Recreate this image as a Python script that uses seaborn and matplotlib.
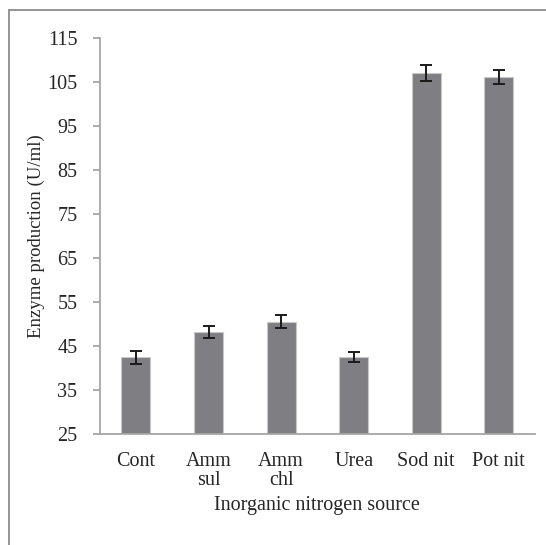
import matplotlib
matplotlib.use('Agg')
import matplotlib.pyplot as plt
import seaborn as sns
import pandas as pd
from matplotlib.lines import Line2D

# Valors llegits del gràfic
fonts = ['Cont', 'Amm\nsul', 'Amm\nchl', 'Urea', 'Sod nit', 'Pot nit']
produccio = [42.4, 48.2, 50.5, 42.5, 107.0, 106.2]
errors = [1.5, 1.3, 1.5, 1.2, 1.8, 1.6]
yticks = [25, 35, 45, 55, 65, 75, 85, 95, 105, 115]

df = pd.DataFrame({'font': fonts, 'valor': produccio})

sns.set_style('white')
plt.rcParams['font.family'] = ['Liberation Serif', 'DejaVu Serif']

fig = plt.figure(figsize=(5.46, 5.45), dpi=100)
ax = fig.add_axes([0.1826, 0.2037, 0.7974, 0.7263])

gris = '#a6a6a6'
sns.barplot(data=df, x='font', y='valor', color='#7f7f83', saturation=1,
            width=0.4, edgecolor='#c8c8c8', linewidth=0.8, errorbar=None, ax=ax)
ax.errorbar(range(len(fonts)), produccio, yerr=errors, fmt='none',
            ecolor='#1a1a1a', elinewidth=1.4, capsize=4, capthick=1.4)

ax.set_ylim(25, 115)
ax.set_yticks(yticks)
ax.set_xlim(-0.5, len(fonts) - 0.5)

# Etiquetes al centre, marques de divisió entre categories
ax.set_xticks(range(len(fonts)))
ax.set_xticklabels(fonts, linespacing=1.0)
ax.set_xticks([i - 0.5 for i in range(len(fonts) + 1)], minor=True)
ax.tick_params(axis='x', which='major', length=0, pad=13, labelsize=14.5)
ax.tick_params(axis='x', which='minor', length=5, width=1.3, color=gris, direction='out')
ax.tick_params(axis='y', length=5, width=1.3, color=gris, direction='out', labelsize=14.5, pad=11, left=True)

for s in ['top', 'right']:
    ax.spines[s].set_visible(False)
for s in ['left', 'bottom']:
    ax.spines[s].set_color(gris)
    ax.spines[s].set_linewidth(1.3)

ax.set_xlabel('Inorganic nitrogen source', fontsize=14.5, labelpad=4)
ax.set_ylabel('Enzyme production (U/ml)', fontsize=13.5, labelpad=2)

# Marc exterior (només es veuen la vora esquerra i la superior)
fig.add_artist(Line2D([9 / 546, 9 / 546], [0, 1 - 10 / 545], color='#8c8c8c', lw=1.3))
fig.add_artist(Line2D([9 / 546, 1], [1 - 10 / 545, 1 - 10 / 545], color='#8c8c8c', lw=1.3))

fig.savefig('out.png', dpi=100)
